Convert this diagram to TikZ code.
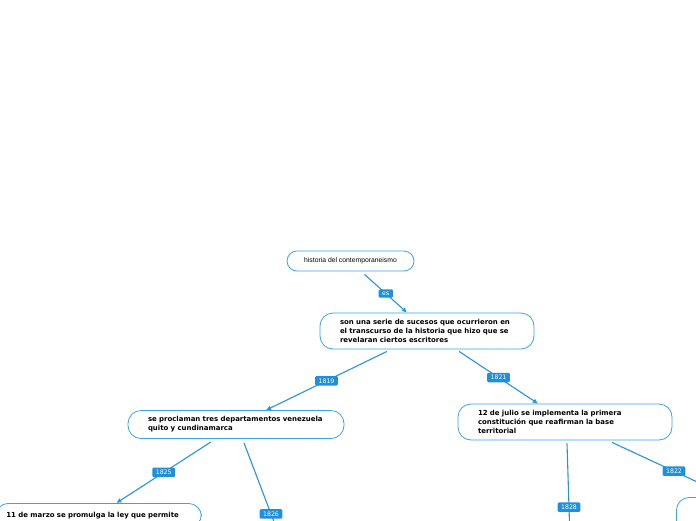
\documentclass[tikz,border=0pt]{standalone}
\usepackage{fontspec}
\setmainfont{DejaVu Sans}
\newfontfamily\titlefont{Liberation Sans}
\usetikzlibrary{arrows.meta,positioning}
\definecolor{MapLine}{HTML}{2694DD}
\definecolor{MapTag}{HTML}{1E90DC}
\definecolor{MapEdge}{HTML}{3DA2E8}

\begin{document}
\begin{tikzpicture}[
      x=1pt,y=-1pt,
      >={Latex[length=5pt,width=5pt]},
      link/.style={->,draw=MapLine,line width=1.1pt},
      tag/.style={fill=MapTag,text=white,rounded corners=1.2pt,inner xsep=3.5pt,
        inner ysep=2.4pt,font=\fontsize{6.2}{6.5}\selectfont},
      topic/.style={draw=MapEdge,fill=white,line width=0.8pt,rounded corners=10pt,
        minimum width=127,minimum height=20,font=\titlefont\fontsize{6.8}{7}\selectfont},
      idea/.style={draw=MapEdge,fill=white,line width=0.8pt,rounded corners=13pt,
        align=left,inner xsep=20pt,inner ysep=4pt,
        font=\bfseries\fontsize{6.95}{9}\selectfont}
    ]
    \useasboundingbox (0,0) rectangle (696,520);
    \clip (0,0) rectangle (696,520);

    \node[topic] (historia) at (350.5,261) {historia del contemporaneismo};

    \node[idea,text width=174,minimum height=36] (serie) at (427,331)
      {son una serie de sucesos que ocurrieron en\\el transcurso de la historia que hizo que se\\revelaran ciertos escritores};
    \node[idea,text width=176,minimum height=28] (deptos) at (236,424.5)
      {se proclaman tres departamentos venezuela\\quito y cundinamarca};
    \node[idea,text width=174,minimum height=36] (julio) at (565,422)
      {12 de julio se implementa la primera\\constitución que reafirman la base\\territorial};
    \node[idea,anchor=north west,text width=184,inner xsep=11pt,inner ysep=8pt,
      text height=6pt,text depth=2pt] (marzo) at (-5,503)
      {11 de marzo se promulga la ley que permite};
    \node[idea,anchor=north west,minimum width=214,minimum height=36] (otro) at (676,497) {};

    % bordes de salida fuera del lienzo
    \coordinate (baja1826) at (298,585);
    \coordinate (baja1828) at (571,571);

    \draw[link] ([xshift=14pt,yshift=-3pt]historia.south) -- ([xshift=-20pt]serie.north)
      node[tag,pos=0.5] {es};
    \draw[link] ([xshift=-40pt,yshift=-2pt]serie.south) -- ([xshift=30pt]deptos.north)
      node[tag,pos=0.5] {1819};
    \draw[link] ([xshift=32pt,yshift=-2pt]serie.south) -- ([xshift=-27pt]julio.north)
      node[tag,pos=0.5] {1821};
    \draw[link] ([xshift=-25pt,yshift=-3pt]deptos.south) -- ([xshift=18pt]marzo.north)
      node[tag,pos=0.5] {1825};
    \draw[link] ([xshift=8pt,yshift=-4pt]deptos.south) -- (baja1826)
      node[tag,pos=0.5] {1826};
    \draw[link] ([xshift=2pt,yshift=-3pt]julio.south) -- (baja1828)
      node[tag,pos=0.5] {1828};
    \draw[link] ([xshift=47pt,yshift=-2pt]julio.south) -- ([yshift=-3pt,xshift=60pt]otro.north west)
      node[tag,pos=0.5] {1822};
  \end{tikzpicture}
\end{document}
